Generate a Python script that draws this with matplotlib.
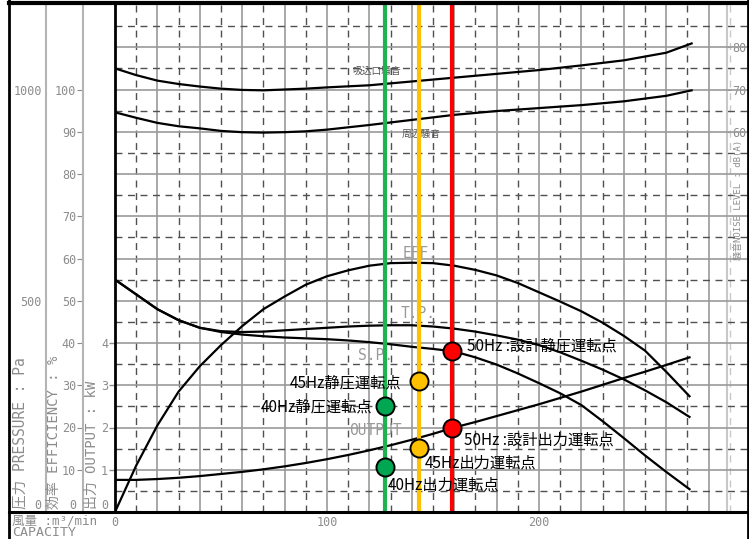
import matplotlib
matplotlib.use("Agg")
import matplotlib.pyplot as plt
import numpy as np

# fan curves, capacity in m3/min; efficiency %, pressure /10 Pa, output kW*10
q = [0, 10, 20, 30, 40, 50, 60, 70, 80, 90, 100, 110, 120, 130, 140,
     150, 160, 170, 180, 190, 200, 210, 220, 230, 240, 250, 260, 271]
eff = [0, 11, 20.5, 28.5, 34.5, 39.5, 44, 48, 51, 53.8, 55.8, 57.2, 58.3, 58.9,
       59, 58.9, 58.3, 57.3, 56, 54.2, 52, 49.8, 47.5, 44.8, 41.7, 38.2, 33.2, 27.4]
tp = [55, 51.5, 48, 45.4, 43.6, 42.8, 42.6, 42.7, 43, 43.3, 43.6, 43.9, 44.1, 44.2,
      44.2, 43.9, 43.4, 42.7, 41.8, 40.8, 39.5, 37.8, 35.8, 33.7, 31.4, 28.8, 26, 22.5]
sp = [55, 51.5, 48, 45.4, 43.6, 42.6, 42.0, 41.6, 41.3, 41.1, 40.9, 40.6, 40.2, 39.7,
      39.1, 38.6, 38.0, 36.6, 34.9, 32.8, 30.5, 28.1, 25.3, 21.5, 17.5, 13.4, 9.5, 5.4]
out = [7.6, 7.6, 7.8, 8.1, 8.5, 9.0, 9.5, 10.1, 10.8, 11.6, 12.5, 13.5, 14.6, 15.8,
       17.1, 18.5, 20, 21.3, 22.7, 24.1, 25.5, 27, 28.5, 30.1, 31.7, 33.2, 34.8, 36.6]

# noise level, dB(A)
nq = [0, 10, 20, 30, 40, 50, 60, 70, 80, 90, 100, 120, 140, 160, 180, 200, 220, 240, 260, 272]
noise_in = [75, 73.4, 72.1, 71.3, 70.7, 70.2, 69.9, 69.8, 70.0, 70.2, 70.5, 71.0,
            71.9, 72.8, 73.7, 74.6, 75.7, 76.9, 78.7, 80.9]
noise_amb = [64.6, 63.3, 62.1, 61.3, 60.8, 60.2, 59.9, 59.8, 59.9, 60.1, 60.5, 61.6,
             62.8, 64.0, 64.9, 65.6, 66.3, 67.2, 68.5, 69.8]

# operating points: capacity, static pressure (/10 Pa), output (kW*10)
op_names = ["40Hz", "45Hz", "50Hz"]
op_q = [127.4, 143.2, 159]
op_sp = [25.0, 31.0, 38.1]
op_out = [10.6, 15.1, 19.9]
op_colors = ["#00a651", "#ffc000", "#ff0000"]
line_colors = ["#1db34f", "#ffc000", "#ff0000"]
sp_labels = ["40Hz静圧運転点", "45Hz静圧運転点", "50Hz :設計静圧運転点"]
out_labels = ["40Hz出力運転点", "45Hz出力運転点", "50Hz :設計出力運転点"]

W, H = 749, 539
fig = plt.figure(figsize=(W / 100, H / 100), dpi=100)
ax = fig.add_axes([115 / W, 27 / H, 633 / W, 507 / H])
ax.set_xlim(0, 298.6)
ax.set_ylim(0, 120)

mono = ["DejaVu Sans Mono", "Noto Sans CJK JP"]
jp = ["Noto Sans CJK JP", "DejaVu Sans"]
gray = "#8c8c8c"

# grid
ax.vlines(np.arange(20, 290, 20), 0, 120, color="#9a9a9a", lw=1.2, zorder=1)
ax.vlines(np.arange(10, 290, 20), 0, 120, color="#505050", lw=1.0,
          linestyles=(0, (5, 4)), zorder=1)
ax.vlines([290], 0, 120, color="#c8c8c8", lw=1.0, linestyles=(0, (5, 4)), zorder=1)
ax.hlines(np.arange(10, 120, 10), 0, 298.6, color="#9a9a9a", lw=1.2, zorder=1)
ax.hlines(np.arange(5, 120, 10), 0, 298.6, color="#505050", lw=1.0,
          linestyles=(0, (5, 4)), zorder=1)

# curves
for ys in (eff, tp, sp, out):
    ax.plot(q, ys, color="black", lw=1.6, zorder=3)
ax.plot(nq, np.array(noise_in) + 30, color="black", lw=1.6, zorder=3)
ax.plot(nq, np.array(noise_amb) + 30, color="black", lw=1.6, zorder=3)

# curve names
for s, x, y in [("EFF.", 144, 61.2), ("T.P.", 143, 47), ("S.P.", 123, 37.1),
                ("OUTPUT", 122.6, 19.4)]:
    ax.text(x, y, s, color="#9a9a9a", fontsize=10.5, family=mono,
            ha="center", va="center", zorder=2)
ax.text(123.6, 104.3, "吸込口騒音", color="#555555", fontsize=7, family=jp,
        ha="center", va="center", zorder=2)
ax.text(144.5, 89.4, "周辺騒音", color="#555555", fontsize=7, family=jp,
        ha="center", va="center", zorder=2)

# operating points
for i in range(3):
    ax.axvline(op_q[i], color=line_colors[i], lw=3, zorder=4)
    ax.plot([op_q[i], op_q[i]], [op_sp[i], op_out[i]], "o", ms=13,
            mfc=op_colors[i], mec="black", mew=1.4, ls="none", zorder=5)

sp_off = [(-9.4, -0.7, "right"), (-12.2, -1.4, "right"), (10.8, 3.6, "left")]
out_off = [(2.2, -13, "left"), (4.3, -10.8, "left"), (8.6, -8.6, "left")]
for i in range(3):
    dx, dy, ha = sp_off[i]
    ax.annotate(sp_labels[i], (op_q[i], op_sp[i]), xytext=(dx, dy),
                textcoords="offset points", ha=ha, va="center",
                fontsize=11, family=jp, zorder=6)
    dx, dy, ha = out_off[i]
    ax.annotate(out_labels[i], (op_q[i], op_out[i]), xytext=(dx, dy),
                textcoords="offset points", ha=ha, va="center",
                fontsize=11, family=jp, zorder=6)

# axes: output (kW) on main spine, capacity along bottom
for s in ("top", "right", "bottom"):
    ax.spines[s].set_visible(False)
ax.spines["left"].set_linewidth(2)
ax.set_yticks([0, 10, 20, 30, 40])
ax.set_yticklabels(["0", "1", "2", "3", "4"], family="DejaVu Sans Mono")
ax.tick_params(axis="y", length=4, width=1, color=gray, labelcolor=gray,
               labelsize=8.5, pad=1)
ax.set_xticks([0, 100, 200])
ax.set_xticklabels(["0", "100", "200"], family="DejaVu Sans Mono")
ax.tick_params(axis="x", length=0, labelcolor=gray, labelsize=8.5, pad=3)

eff_ax = ax.secondary_yaxis(-32 / 633)
eff_ax.set_yticks(np.arange(0, 101, 10))
eff_ax.tick_params(length=4, color=gray, labelcolor=gray, labelsize=8.5, pad=1)
eff_ax.spines["left"].set_color("#b4b4b4")
eff_ax.spines["left"].set_linewidth(1.5)

pa_ax = ax.secondary_yaxis(-69 / 633, functions=(lambda v: v * 10, lambda p: p / 10))
pa_ax.set_yticks([0, 500, 1000])
pa_ax.tick_params(length=0, labelcolor=gray, labelsize=8.5, pad=3)
pa_ax.spines["left"].set_color("#b4b4b4")
pa_ax.spines["left"].set_linewidth(1.5)

db_ax = ax.secondary_yaxis(612 / 633, functions=(lambda v: v - 30, lambda d: d + 30))
db_ax.set_yticks([60, 70, 80])
db_ax.tick_params(length=3, color=gray, labelcolor=gray, labelsize=8.5, pad=1)
db_ax.spines["right"].set_color("#c8c8c8")
db_ax.spines["right"].set_linewidth(1.5)

fig.canvas.draw()
for a in (ax, eff_ax, pa_ax, db_ax):
    labels = a.get_yticklabels()
    for t in labels:
        t.set_family("DejaVu Sans Mono")
    if a is not db_ax:
        # the zero labels sit just above the base line
        labels[0].set_verticalalignment("bottom")

# frame and side captions, drawn in pixel coordinates
bg = fig.add_axes([0, 0, 1, 1], facecolor="none")
bg.set_xlim(0, W)
bg.set_ylim(H, 0)
bg.axis("off")
bg.plot([9, 9], [0, H], color="black", lw=2)
bg.plot([748, 748], [0, H], color="black", lw=2)
bg.plot([9, 748], [2.5, 2.5], color="black", lw=3)
bg.plot([9, 748], [512, 512], color="black", lw=2.2)

bg.text(20, 509, "圧力 PRESSURE : Pa", rotation=90, ha="center", va="bottom",
        color=gray, fontsize=10.5, family=mono)
bg.text(54, 509, "効率 EFFICIENCY : %", rotation=90, ha="center", va="bottom",
        color=gray, fontsize=10, family=mono)
bg.text(92, 509, "出力 OUTPUT : kW", rotation=90, ha="center", va="bottom",
        color=gray, fontsize=10, family=mono)
bg.text(738, 200, "騒音NOISE LEVEL : dB(A)", rotation=90, ha="center", va="center",
        color=gray, fontsize=6.5, family=mono)
bg.text(12, 521, "風量 :m³/min", ha="left", va="center", color=gray,
        fontsize=9, family=mono)
bg.text(12, 533, "CAPACITY", ha="left", va="center", color=gray,
        fontsize=9.5, family=mono)

fig.savefig("out.png", dpi=100)
